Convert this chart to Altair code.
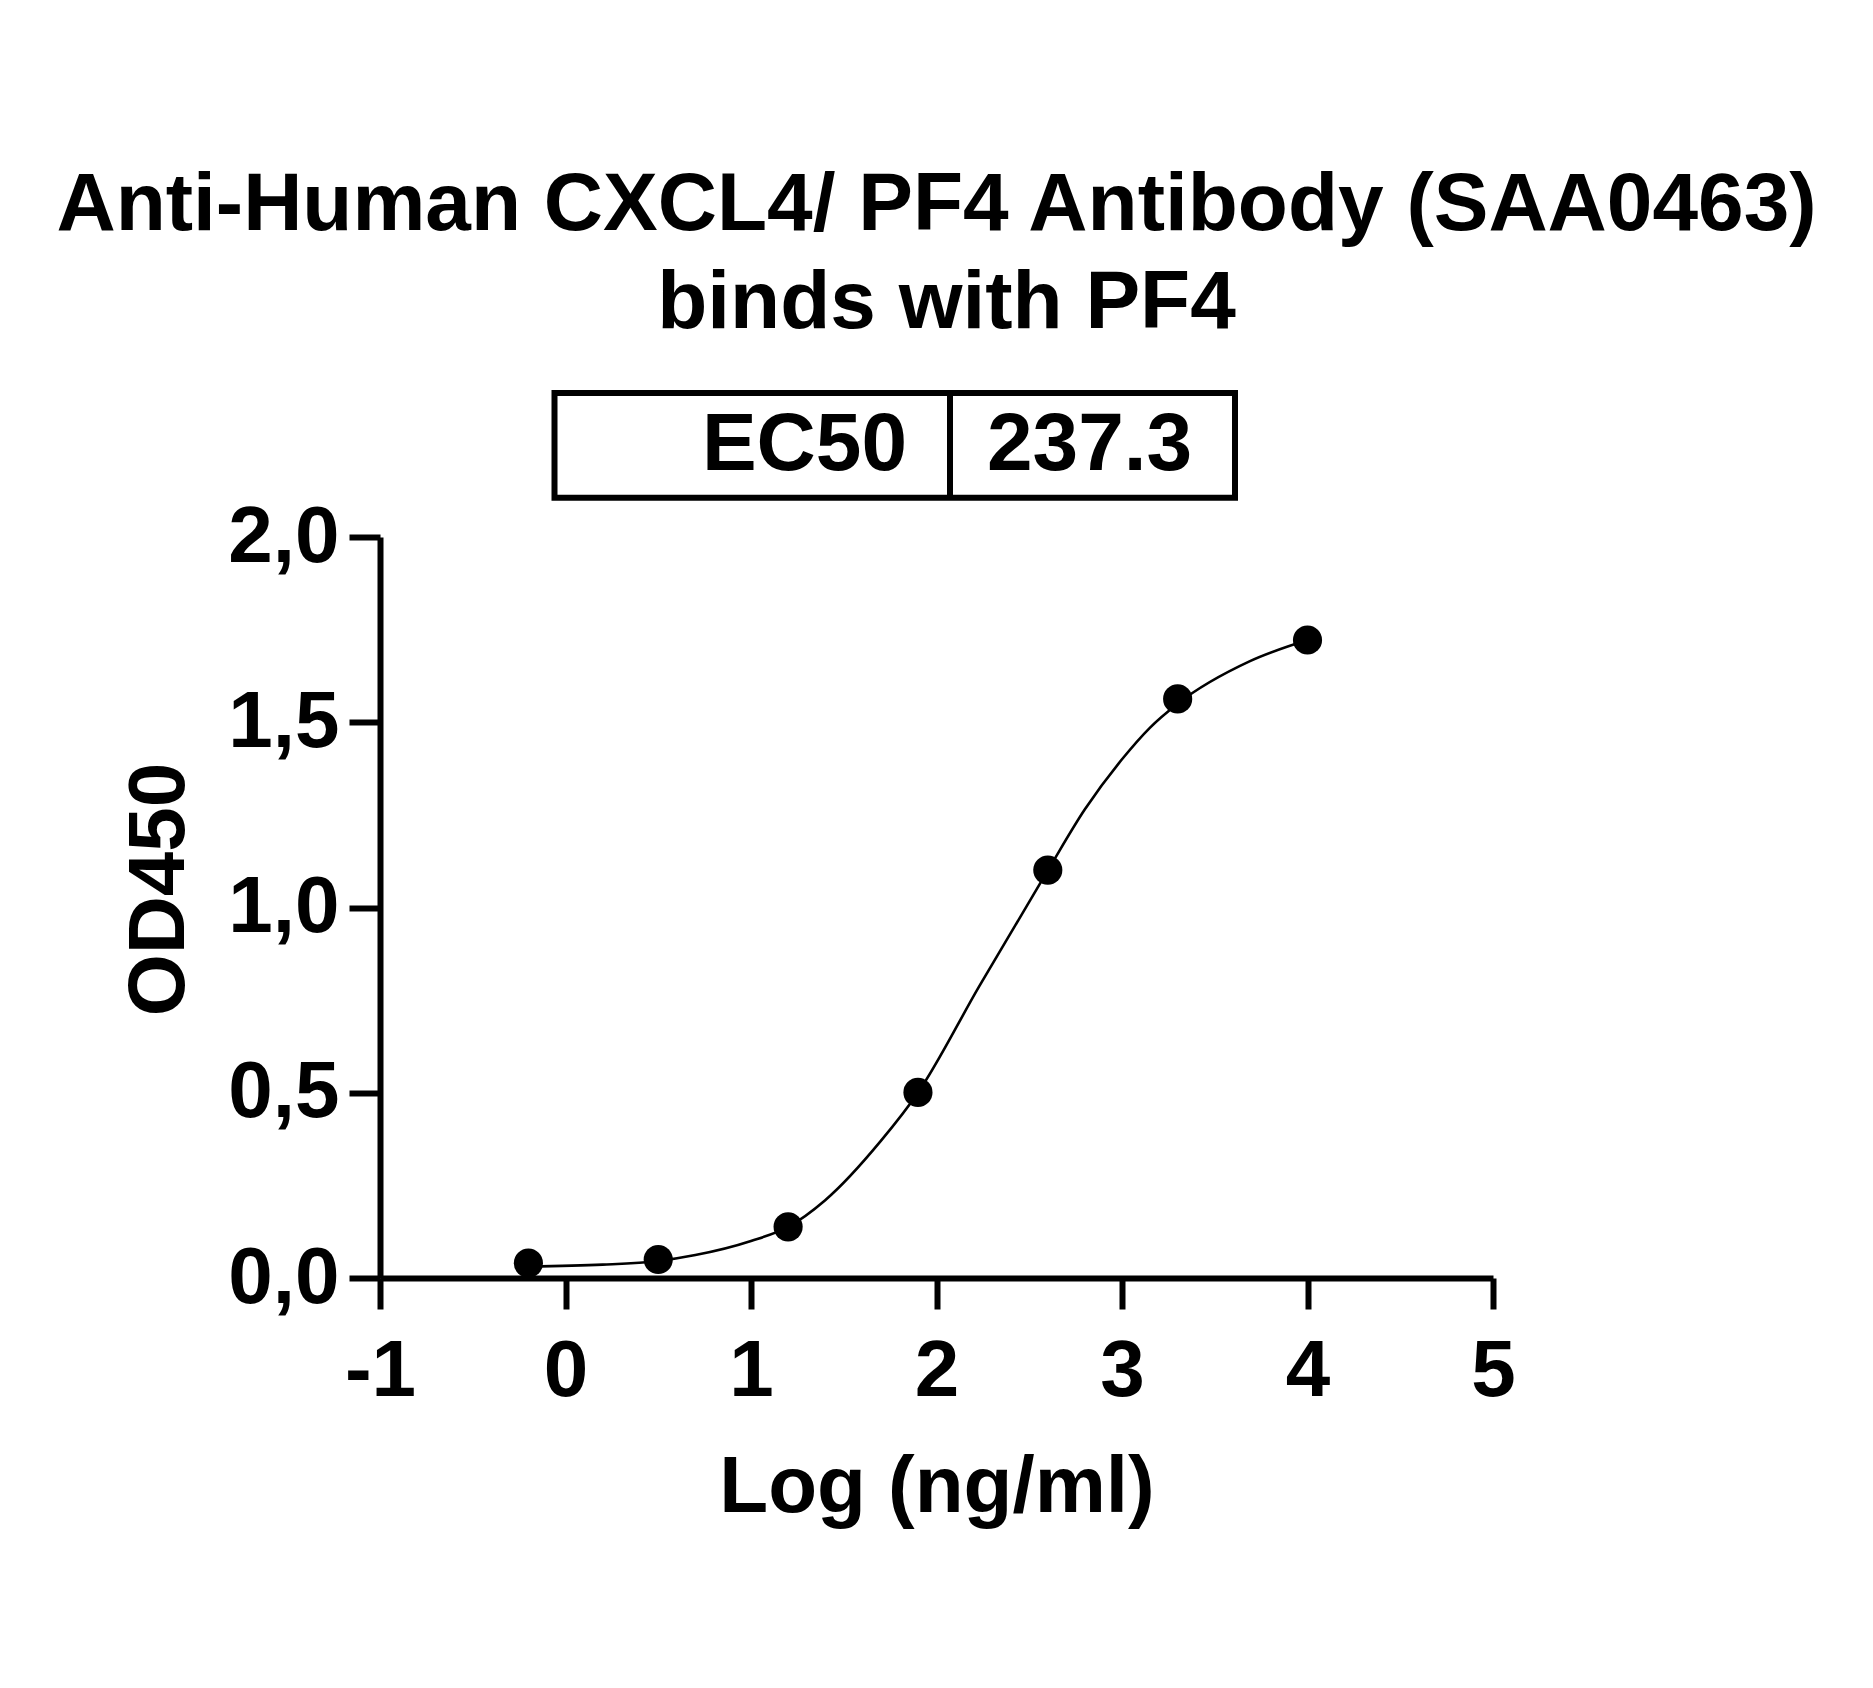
import altair as alt
import pandas as pd

FONT = "Liberation Sans"

title_lines = ["Anti-Human CXCL4/ PF4 Antibody (SAA0463)", "binds with PF4"]
ec50_label = "EC50"
ec50_value = "237.3"

# measured points
log_conc = [-0.2, 0.5, 1.2, 1.9, 2.6, 3.3, 4.0]
od450 = [0.040, 0.050, 0.138, 0.501, 1.101, 1.563, 1.722]

# fitted curve
fit_x = [-0.2, 0.2, 0.5, 0.7, 1.0, 1.2, 1.4, 1.7, 1.9, 2.23, 2.6, 2.8, 3.0, 3.15, 3.3, 3.69, 4.0]
fit_y = [0.031, 0.036, 0.046, 0.062, 0.10, 0.138, 0.21, 0.37, 0.50, 0.787, 1.10, 1.265, 1.40, 1.485, 1.55, 1.665, 1.722]

x_ticks = [-1, 0, 1, 2, 3, 4, 5]
y_ticks = [0.0, 0.5, 1.0, 1.5, 2.0]

W, H = 1113, 741

pts_df = pd.DataFrame({"x": log_conc, "y": od450})
fit_df = pd.DataFrame({"x": fit_x, "y": fit_y})

x_scale = alt.Scale(domain=[-1, 5], nice=False, zero=False)
y_scale = alt.Scale(domain=[0, 2], nice=False, zero=False)

x_axis = alt.Axis(
    values=x_ticks,
    labelExpr="datum.value < 0 ? '-' + abs(datum.value) : '' + datum.value",
    title="Log (ng/ml)",
    titleY=233,
    titleBaseline="alphabetic",
    labelPadding=23,
    labelFlush=False,
)
y_axis = alt.Axis(
    values=y_ticks,
    labelExpr="replace(format(datum.value, '.1f'), '.', ',')",
    title="OD450",
    titleAngle=270,
    titleX=-197,
    titleY=352,
    titleAlign="center",
    titleBaseline="alphabetic",
    labelPadding=10,
    labelFlush=False,
)

line = alt.Chart(fit_df).mark_line(
    color="black", strokeWidth=2.6, interpolate="monotone"
).encode(
    x=alt.X("x:Q", scale=x_scale, axis=x_axis),
    y=alt.Y("y:Q", scale=y_scale, axis=y_axis),
)

points = alt.Chart(pts_df).mark_point(
    shape="circle", filled=True, color="black", size=850, opacity=1
).encode(
    x=alt.X("x:Q", scale=x_scale),
    y=alt.Y("y:Q", scale=y_scale),
)


def txt(text, x, y, size, align):
    return alt.Chart(pd.DataFrame({"t": [text]})).mark_text(
        font=FONT, fontWeight="bold", fontSize=size, align=align,
        baseline="alphabetic", color="black"
    ).encode(x=alt.value(x), y=alt.value(y), text="t:N")


box = alt.Chart(pd.DataFrame({"t": [ec50_label]})).mark_rect(
    fill="white", stroke="black", strokeWidth=6
).encode(
    x=alt.value(174.5), x2=alt.value(855), y=alt.value(-144), y2=alt.value(-39.3)
)
divider = alt.Chart(pd.DataFrame({"t": [ec50_label]})).mark_rule(
    color="black", strokeWidth=6
).encode(x=alt.value(570), y=alt.value(-144), y2=alt.value(-39.3))

chart = alt.layer(
    box,
    divider,
    txt(ec50_label, 527, -67, 82, "right"),
    txt(ec50_value, 607, -67, 82, "left"),
    txt(title_lines[0], W / 2, -307, 82, "center"),
    txt(title_lines[1], W / 2 + 10, -209, 82, "center"),
    line,
    points,
).properties(
    width=W, height=H,
    autosize=alt.AutoSizeParams(type="none"),
    padding={"left": 372, "top": 529, "right": 372, "bottom": 400},
    background="white",
).configure_view(stroke=None).configure_axis(
    grid=False,
    domainColor="black",
    domainWidth=6,
    tickColor="black",
    tickWidth=6,
    tickSize=31,
    labelFont=FONT,
    labelFontWeight="bold",
    labelFontSize=80,
    labelColor="black",
    titleFont=FONT,
    titleFontWeight="bold",
    titleFontSize=80,
    titleColor="black",
)

chart.save("out.html", embed_options={"renderer": "svg", "actions": False})
